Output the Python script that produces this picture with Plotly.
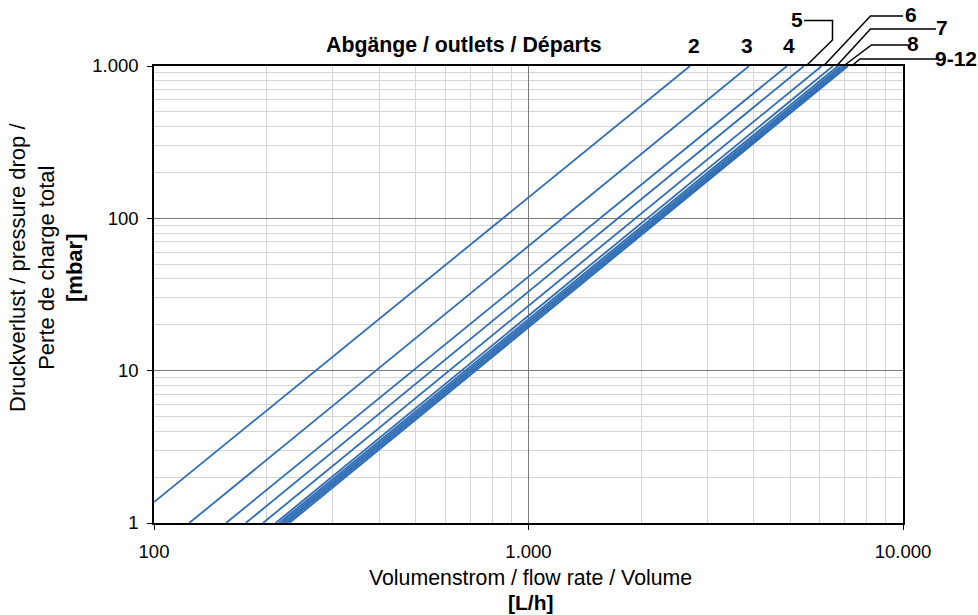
import plotly.graph_objects as go

# Outlets (series names)
outlets = ["2", "3", "4", "5", "6", "7", "8", "9", "10", "11", "12"]
# Start point of each curve (flow rate L/h, pressure drop mbar)
q_start = [100, 124.2, 155.7, 175.8, 195.4, 211.3, 215.7, 219.3, 222.8, 226.1, 229.8]
dp_start = [1.37, 1, 1, 1, 1, 1, 1, 1, 1, 1, 1]
# End point of each curve (flow rate at 1000 mbar)
q_end = [2699, 3880, 4901, 5440, 6066, 6503, 6705, 6830, 6936, 7044, 7131]
dp_end = [1000, 1000, 1000, 1000, 1000, 1000, 1000, 1000, 1000, 1000, 1000]

x_tickvals = [100, 1000, 10000]
x_ticktext = ["100", "1.000", "10.000"]
y_tickvals = [1, 10, 100, 1000]
y_ticktext = ["1", "10", "100", "1.000"]

FONT = "Liberation Sans, Arial, sans-serif"
BLUE = "#2F6DB5"

W, H = 978, 615
L, R, T, B = 154, 903, 66, 523

def px(x):
    return (x - L) / (R - L)

def py(y):
    return (B - y) / (B - T)

fig = go.Figure()
for name, qs, ds, qe, de in zip(outlets, q_start, dp_start, q_end, dp_end):
    fig.add_trace(go.Scatter(x=[qs, qe], y=[ds, de], mode="lines", name=name,
                             line=dict(color=BLUE, width=1.8), showlegend=False))

axis_common = dict(
    type="log", showline=True, linecolor="black", linewidth=1.5, mirror=True,
    showgrid=True, gridcolor="#7a7a7a", gridwidth=1,
    ticks="outside", ticklen=5, tickcolor="black",
    tickfont=dict(family=FONT, size=18.5, color="black"),
    tickmode="array", zeroline=False,
    minor=dict(dtick="D1", showgrid=True, gridcolor="#d4d4d4", gridwidth=1, ticks=""),
)

fig.update_layout(
    width=W, height=H,
    margin=dict(l=L, r=W - R, t=T, b=H - B),
    paper_bgcolor="white", plot_bgcolor="white",
    font=dict(family=FONT, color="black"),
    xaxis=dict(range=[2, 4], tickvals=x_tickvals, ticktext=x_ticktext,
               ticklabelstandoff=6, **axis_common),
    yaxis=dict(range=[0, 3], tickvals=y_tickvals, ticktext=y_ticktext,
               ticklabelstandoff=5, **axis_common),
)

ann = []
ann.append(dict(text="Volumenstrom / flow rate / Volume", x=px(530), y=py(578),
                font=dict(size=21.3)))
ann.append(dict(text="<b>[L/h]</b>", x=px(530), y=py(602), font=dict(size=21)))
ann.append(dict(text="Druckverlust / pressure drop /<br>Perte de charge total<br><b>[mbar]</b>",
                x=px(46), y=py(268), textangle=-90, font=dict(size=22)))
ann.append(dict(text="<b>Abgänge / outlets / Départs</b>", x=px(464), y=py(45),
                font=dict(size=21.3)))
for t, x, y in [("2", 694, 45), ("3", 747, 45), ("4", 789, 45), ("5", 797, 19),
                ("6", 911, 15), ("7", 942, 28), ("8", 913, 43), ("9-12", 956, 58)]:
    ann.append(dict(text="<b>%s</b>" % t, x=px(x), y=py(y), font=dict(size=21)))
for a in ann:
    a.update(xref="paper", yref="paper", showarrow=False, xanchor="center",
             yanchor="middle")
fig.update_layout(annotations=ann)

# Leader lines (pixel positions converted to paper coordinates)
leaders = [
    [(804, 20.5), (832.5, 20.5), (832.5, 40), (806, 66)],
    [(903, 16), (870.5, 16), (823.5, 66)],
    [(936, 29), (870.5, 29), (836.5, 66)],
    [(908, 45), (871.5, 45), (843.5, 66)],
    [(937, 59), (860, 59), (851.5, 66)],
]
for pts in leaders:
    d = "M " + " L ".join("%f,%f" % (px(a), py(b)) for a, b in pts)
    fig.add_shape(type="path", path=d, xref="paper", yref="paper",
                  line=dict(color="black", width=1.5))

fig.write_html("out.html", config={"displayModeBar": False},
               post_script="document.body.style.margin='0';")
